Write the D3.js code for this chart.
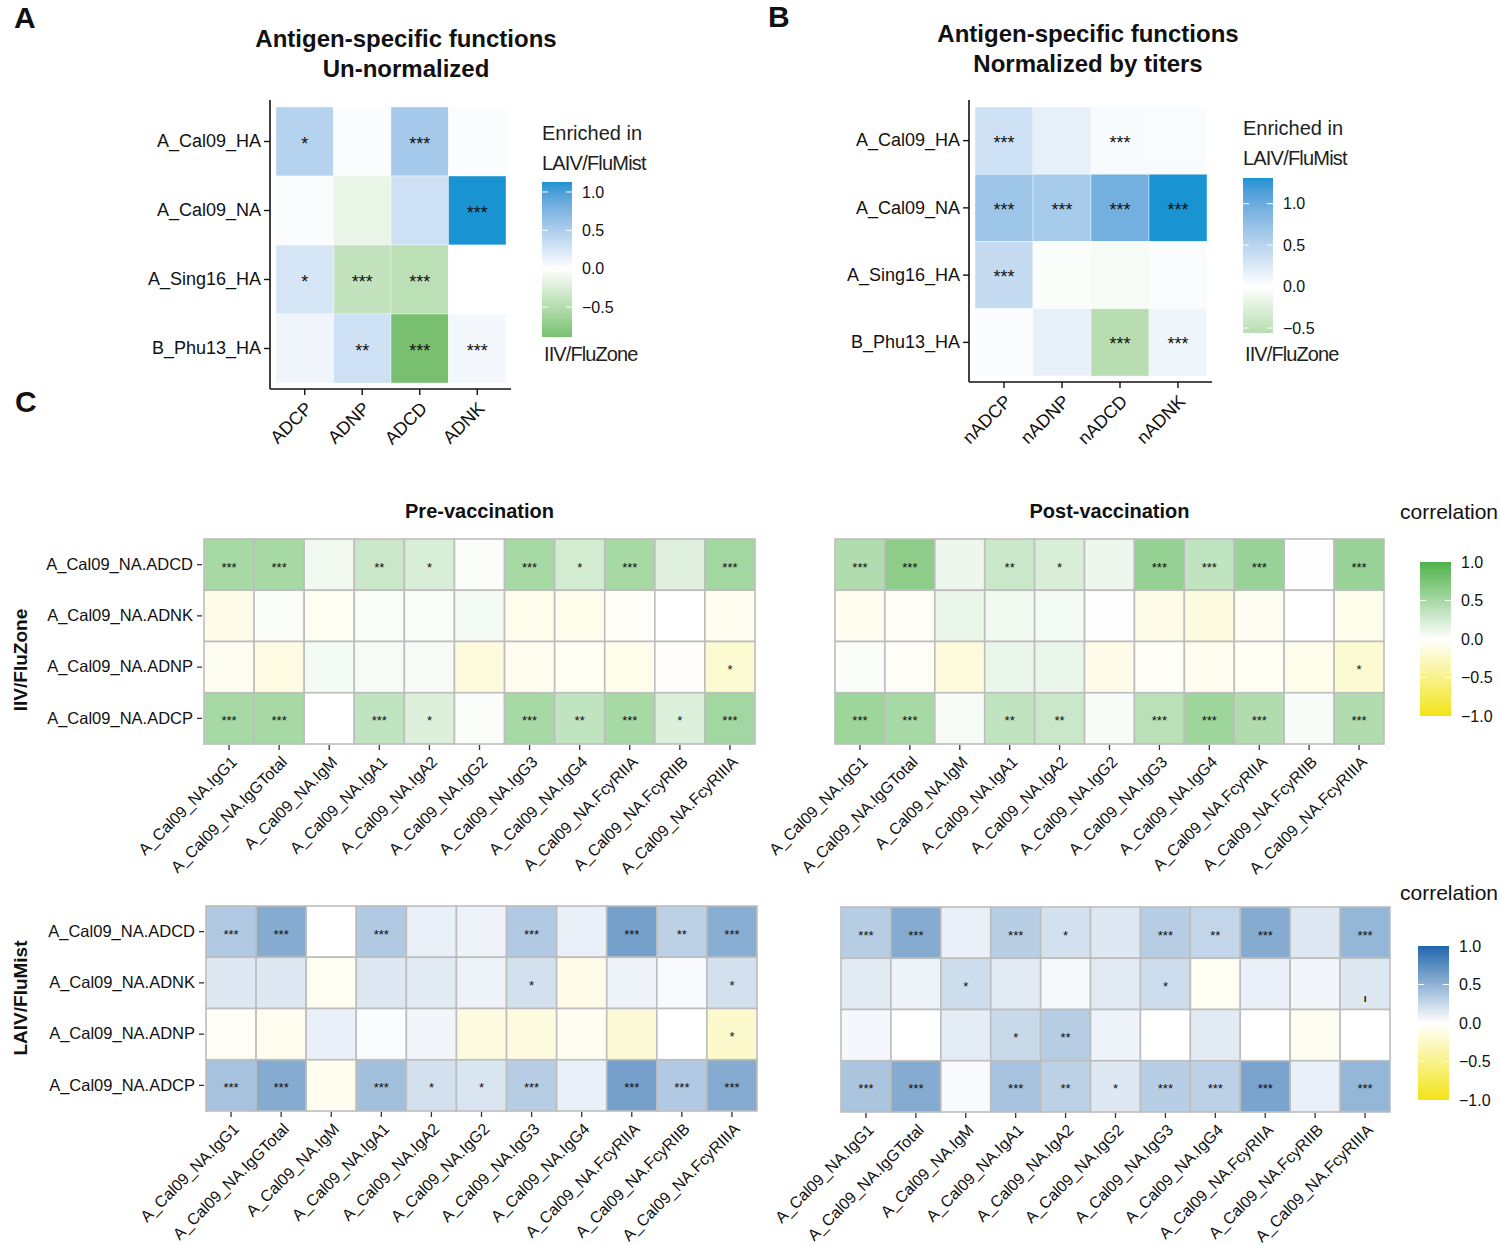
<!DOCTYPE html>
<html>
<head>
<meta charset="utf-8">
<script src="https://cdn.jsdelivr.net/npm/d3@7"></script>
<style>
  html, body { margin: 0; padding: 0; background: #fff; }
  svg { display: block; }
</style>
</head>
<body>
<script>
// ---------------- DATA ----------------
const fnRows = ["A_Cal09_HA", "A_Cal09_NA", "A_Sing16_HA", "B_Phu13_HA"];
const colsA = ["ADCP", "ADNP", "ADCD", "ADNK"];
const valsA = [
  [0.45, 0.03, 0.55, 0.03],
  [0.03, -0.15, 0.30, 1.13],
  [0.25, -0.40, -0.45, 0.00],
  [0.10, 0.30, -0.89, 0.07]
];
const starsA = [
  ["*", "", "***", ""],
  ["", "", "", "***"],
  ["*", "***", "***", ""],
  ["", "**", "***", "***"]
];
const colsB = ["nADCP", "nADNP", "nADCD", "nADNK"];
const valsB = [
  [0.35, 0.18, 0.05, 0.04],
  [0.68, 0.62, 0.95, 1.31],
  [0.42, -0.03, -0.07, 0.03],
  [0.03, 0.18, -0.56, 0.12]
];
const starsB = [
  ["***", "", "***", ""],
  ["***", "***", "***", "***"],
  ["***", "", "", ""],
  ["", "", "***", "***"]
];
const fnLegendTicks = [1.0, 0.5, 0.0, -0.5];

const corrRows = ["A_Cal09_NA.ADCD", "A_Cal09_NA.ADNK", "A_Cal09_NA.ADNP", "A_Cal09_NA.ADCP"];
const corrCols = ["A_Cal09_NA.IgG1", "A_Cal09_NA.IgGTotal", "A_Cal09_NA.IgM", "A_Cal09_NA.IgA1",
  "A_Cal09_NA.IgA2", "A_Cal09_NA.IgG2", "A_Cal09_NA.IgG3", "A_Cal09_NA.IgG4",
  "A_Cal09_NA.FcyRIIA", "A_Cal09_NA.FcyRIIB", "A_Cal09_NA.FcyRIIIA"];
const corrLegendTicks = [1.0, 0.5, 0.0, -0.5, -1.0];

// IIV/FluZone, pre-vaccination
const iivPre = [
  [0.50, 0.50, 0.08, 0.30, 0.22, 0.03, 0.50, 0.25, 0.50, 0.18, 0.52],
  [-0.10, 0.03, -0.05, 0.02, 0.03, 0.06, -0.08, -0.08, -0.03, 0.00, -0.07],
  [-0.06, -0.13, 0.06, 0.05, 0.05, -0.15, -0.07, -0.05, -0.08, -0.02, -0.20],
  [0.50, 0.50, 0.00, 0.35, 0.20, 0.03, 0.50, 0.35, 0.50, 0.20, 0.52]
];
const iivPreStars = [
  ["***", "***", "", "**", "*", "", "***", "*", "***", "", "***"],
  ["", "", "", "", "", "", "", "", "", "", ""],
  ["", "", "", "", "", "", "", "", "", "", "*"],
  ["***", "***", "", "***", "*", "", "***", "**", "***", "*", "***"]
];
// IIV/FluZone, post-vaccination
const iivPost = [
  [0.45, 0.65, 0.10, 0.30, 0.22, 0.10, 0.60, 0.35, 0.58, 0.01, 0.58],
  [-0.07, -0.04, 0.12, 0.08, 0.06, 0.01, -0.10, -0.14, -0.06, 0.00, -0.08],
  [0.02, -0.04, -0.15, 0.12, 0.12, -0.10, -0.03, -0.07, -0.05, -0.08, -0.20],
  [0.55, 0.50, 0.05, 0.35, 0.30, 0.04, 0.40, 0.55, 0.45, 0.04, 0.45]
];
const iivPostStars = [
  ["***", "***", "", "**", "*", "", "***", "***", "***", "", "***"],
  ["", "", "", "", "", "", "", "", "", "", ""],
  ["", "", "", "", "", "", "", "", "", "", "*"],
  ["***", "***", "", "**", "**", "", "***", "***", "***", "", "***"]
];
// LAIV/FluMist, pre-vaccination
const laivPre = [
  [0.35, 0.55, 0.00, 0.35, 0.10, 0.08, 0.35, 0.10, 0.62, 0.30, 0.53],
  [0.15, 0.15, -0.05, 0.15, 0.13, 0.08, 0.20, -0.10, 0.08, 0.03, 0.20],
  [-0.04, -0.07, 0.10, 0.02, 0.06, -0.14, -0.14, -0.06, -0.17, 0.00, -0.22],
  [0.40, 0.55, -0.07, 0.42, 0.20, 0.17, 0.33, 0.10, 0.62, 0.35, 0.55]
];
const laivPreStars = [
  ["***", "***", "", "***", "", "", "***", "", "***", "**", "***"],
  ["", "", "", "", "", "", "*", "", "", "", "*"],
  ["", "", "", "", "", "", "", "", "", "", "*"],
  ["***", "***", "", "***", "*", "*", "***", "", "***", "***", "***"]
];
// LAIV/FluMist, post-vaccination
const laivPost = [
  [0.33, 0.55, 0.10, 0.32, 0.20, 0.15, 0.33, 0.27, 0.55, 0.15, 0.48],
  [0.13, 0.08, 0.22, 0.13, 0.04, 0.13, 0.22, -0.05, 0.10, 0.06, 0.15],
  [0.05, 0.00, 0.12, 0.25, 0.33, 0.08, 0.00, 0.13, 0.00, -0.06, 0.00],
  [0.38, 0.55, 0.03, 0.40, 0.30, 0.15, 0.32, 0.30, 0.60, 0.10, 0.48]
];
const laivPostStars = [
  ["***", "***", "", "***", "*", "", "***", "**", "***", "", "***"],
  ["", "", "*", "", "", "", "*", "", "", "", "ı"],
  ["", "", "", "*", "**", "", "", "", "", "", ""],
  ["***", "***", "", "***", "**", "*", "***", "***", "***", "", "***"]
];

// ---------------- STYLE ----------------
const FONT = "'Liberation Sans', Arial, Helvetica, sans-serif";
const FN_GREEN = "#4daf4a", FN_BLUE = "#1a93d3";
const C_GREEN = "#4fb24a", C_BLUE = "#2166ac", C_YELLOW = "#f2e417";
const fmt = v => (v < 0 ? "\u2212" : "") + Math.abs(v).toFixed(1);

const svg = d3.select("body").append("svg")
  .attr("width", 1500).attr("height", 1245)
  .style("font-family", FONT);
const defs = svg.append("defs");
let gradId = 0;

function panelLetter(txt, x, y) {
  svg.append("text").attr("x", x).attr("y", y).text(txt)
    .attr("font-size", 30).attr("font-weight", "bold").attr("fill", "#111");
}

function gradientLegend(o) {
  const id = "grad" + (gradId++);
  const lg = defs.append("linearGradient").attr("id", id)
    .attr("x1", 0).attr("y1", 1).attr("x2", 0).attr("y2", 0);
  const N = 40;
  for (let i = 0; i <= N; i++) {
    const v = o.domain[0] + (o.domain[1] - o.domain[0]) * i / N;
    lg.append("stop").attr("offset", i / N).attr("stop-color", o.color(v));
  }
  const s = d3.scaleLinear().domain(o.domain).range([o.yBot, o.yTop]);
  const g = svg.append("g");
  g.append("rect").attr("x", o.x).attr("y", o.yTop).attr("width", o.w)
    .attr("height", o.yBot - o.yTop).attr("fill", `url(#${id})`);
  const tl = o.w / 5;
  o.ticks.forEach(t => {
    const yy = s(t);
    if (yy > o.yTop + 2 && yy < o.yBot - 2) {
      g.append("line").attr("x1", o.x).attr("x2", o.x + tl).attr("y1", yy).attr("y2", yy)
        .attr("stroke", "#fff").attr("stroke-width", 1);
      g.append("line").attr("x1", o.x + o.w - tl).attr("x2", o.x + o.w).attr("y1", yy).attr("y2", yy)
        .attr("stroke", "#fff").attr("stroke-width", 1);
    }
    g.append("text").attr("x", o.x + o.w + o.labelGap).attr("y", yy).attr("dy", "0.36em")
      .attr("font-size", o.labelSize).attr("fill", "#111").text(fmt(t));
  });
}

// -------- Panels A & B: antigen-specific functions --------
function fnPanel(o) {
  const x = d3.scaleBand().domain(o.cols).range([o.x0, o.x1]);
  const y = d3.scaleBand().domain(o.rows).range([o.y0, o.y1]);
  const all = o.vals.flat();
  const m = d3.max(all, v => Math.abs(v));
  const color = d3.scaleLinear().domain([-m, 0, m])
    .range([FN_GREEN, "#ffffff", FN_BLUE]).interpolate(d3.interpolateLab);
  const g = svg.append("g");
  o.rows.forEach((r, i) => o.cols.forEach((c, j) => {
    g.append("rect").attr("x", x(c)).attr("y", y(r))
      .attr("width", x.bandwidth()).attr("height", y.bandwidth())
      .attr("fill", color(o.vals[i][j]))
      .attr("stroke", "#ffffff").attr("stroke-opacity", 0.5).attr("stroke-width", 0.8);
    if (o.stars[i][j]) {
      g.append("text").attr("x", x(c) + x.bandwidth() / 2).attr("y", y(r) + y.bandwidth() / 2 + 8)
        .attr("text-anchor", "middle").attr("font-size", 18).attr("fill", "#111")
        .text(o.stars[i][j]);
    }
  }));
  // axes
  const axX = o.x0 - 6, axY = o.y1 + 6;
  g.append("line").attr("x1", axX).attr("x2", axX).attr("y1", o.y0 - 7).attr("y2", axY)
    .attr("stroke", "#111").attr("stroke-width", 1.6);
  g.append("line").attr("x1", axX).attr("x2", o.x1 + 5).attr("y1", axY).attr("y2", axY)
    .attr("stroke", "#111").attr("stroke-width", 1.6);
  const ya = g.append("g").attr("transform", `translate(${axX},0)`)
    .call(d3.axisLeft(y).tickSize(6).tickPadding(3).tickSizeOuter(0));
  ya.select(".domain").remove();
  ya.selectAll(".tick line").attr("stroke", "#111").attr("stroke-width", 1.4);
  ya.selectAll(".tick text").attr("font-size", 18).attr("fill", "#111").attr("font-family", FONT);
  const xa = g.append("g").attr("transform", `translate(0,${axY})`)
    .call(d3.axisBottom(x).tickSize(6).tickSizeOuter(0));
  xa.select(".domain").remove();
  xa.selectAll(".tick line").attr("stroke", "#111").attr("stroke-width", 1.4);
  xa.selectAll(".tick text").attr("font-size", 18).attr("fill", "#111").attr("font-family", FONT)
    .attr("x", 0).attr("y", 0).attr("dy", "0.35em")
    .attr("text-anchor", "end").attr("transform", "translate(4,16) rotate(-45)");
  // title
  o.title.forEach((t, k) => {
    svg.append("text").attr("x", o.titleX).attr("y", o.titleY + k * 30).attr("text-anchor", "middle")
      .attr("font-size", 24).attr("font-weight", "bold").attr("fill", "#111").text(t);
  });
  // legend
  const ext = d3.extent(all);
  svg.append("text").attr("x", o.lgX).attr("y", o.lgTitleY).attr("font-size", 20).attr("fill", "#222")
    .text("Enriched in");
  svg.append("text").attr("x", o.lgX).attr("y", o.lgTitleY + 30).attr("font-size", 20).attr("fill", "#222")
    .attr("letter-spacing", -0.8).text("LAIV/FluMist");
  svg.append("text").attr("x", o.lgX + 2).attr("y", 361).attr("font-size", 20).attr("fill", "#222")
    .attr("letter-spacing", -0.9).text("IIV/FluZone");
  gradientLegend({ x: o.lgX, yTop: o.lgTop, yBot: o.lgBot, w: 30, domain: ext, color,
    ticks: fnLegendTicks.filter(t => t >= ext[0] && t <= ext[1]), labelSize: 16, labelGap: 10 });
}

fnPanel({ rows: fnRows, cols: colsA, vals: valsA, stars: starsA,
  x0: 276, x1: 506, y0: 107, y1: 383,
  title: ["Antigen-specific functions", "Un-normalized"], titleX: 406, titleY: 47,
  lgX: 542, lgTitleY: 140, lgTop: 182, lgBot: 337 });
fnPanel({ rows: fnRows, cols: colsB, vals: valsB, stars: starsB,
  x0: 975, x1: 1207, y0: 107, y1: 376,
  title: ["Antigen-specific functions", "Normalized by titers"], titleX: 1088, titleY: 42,
  lgX: 1243, lgTitleY: 135, lgTop: 178, lgBot: 333 });

panelLetter("A", 14, 28);
panelLetter("B", 768, 27);
panelLetter("C", 15, 412);

// -------- Panel C: correlation heatmaps --------
function corrPanel(o) {
  const x = d3.scaleBand().domain(corrCols).range([o.x0, o.x1]);
  const y = d3.scaleBand().domain(corrRows).range([o.y0, o.y1]);
  const g = svg.append("g");
  corrRows.forEach((r, i) => corrCols.forEach((c, j) => {
    g.append("rect").attr("x", x(c)).attr("y", y(r))
      .attr("width", x.bandwidth()).attr("height", y.bandwidth())
      .attr("fill", o.color(o.vals[i][j]))
      .attr("stroke", "#bdbdbd").attr("stroke-width", 1.6);
    const s = o.stars[i][j];
    if (s) {
      const isTick = s === "ı";
      g.append("text").attr("x", x(c) + x.bandwidth() / 2)
        .attr("y", y(r) + y.bandwidth() / 2 + (isTick ? 18 : 7))
        .attr("text-anchor", "middle").attr("font-size", isTick ? 10 : 13)
        .attr("font-weight", isTick ? "bold" : "normal").attr("fill", "#111").text(s);
    }
  }));
  const xa = g.append("g").attr("transform", `translate(0,${o.y1 + 1})`)
    .call(d3.axisBottom(x).tickSize(5).tickSizeOuter(0));
  xa.select(".domain").remove();
  xa.selectAll(".tick line").attr("stroke", "#333").attr("stroke-width", 1.3);
  xa.selectAll(".tick text").attr("font-size", 16).attr("fill", "#111").attr("font-family", FONT)
    .attr("x", 0).attr("y", 0).attr("dy", "0.35em")
    .attr("text-anchor", "end").attr("transform", "translate(5,14) rotate(-45)");
  if (o.rowLabels) {
    const ya = g.append("g").attr("transform", `translate(${o.x0 - 2},0)`)
      .call(d3.axisLeft(y).tickSize(5).tickPadding(4).tickSizeOuter(0));
    ya.select(".domain").remove();
    ya.selectAll(".tick line").attr("stroke", "#333").attr("stroke-width", 1.3);
    ya.selectAll(".tick text").attr("font-size", 16.5).attr("fill", "#111").attr("font-family", FONT);
  }
  if (o.title) {
    svg.append("text").attr("x", (o.x0 + o.x1) / 2).attr("y", o.y0 - 21).attr("text-anchor", "middle")
      .attr("font-size", 20).attr("font-weight", "bold").attr("fill", "#111").text(o.title);
  }
}

const greenScale = d3.scaleLinear().domain([-1, 0, 1]).range([C_YELLOW, "#ffffff", C_GREEN])
  .interpolate(d3.interpolateRgb);
const blueScale = d3.scaleLinear().domain([-1, 0, 1]).range([C_YELLOW, "#ffffff", C_BLUE])
  .interpolate(d3.interpolateRgb);

corrPanel({ vals: iivPre, stars: iivPreStars, color: greenScale, x0: 204, x1: 755, y0: 539, y1: 744,
  rowLabels: true, title: "Pre-vaccination" });
corrPanel({ vals: iivPost, stars: iivPostStars, color: greenScale, x0: 835, x1: 1384, y0: 539, y1: 744,
  rowLabels: false, title: "Post-vaccination" });
corrPanel({ vals: laivPre, stars: laivPreStars, color: blueScale, x0: 206, x1: 757, y0: 906, y1: 1111,
  rowLabels: true });
corrPanel({ vals: laivPost, stars: laivPostStars, color: blueScale, x0: 841, x1: 1390, y0: 907, y1: 1112,
  rowLabels: false });

// group labels
svg.append("text").attr("transform", "translate(27,660) rotate(-90)").attr("text-anchor", "middle")
  .attr("font-size", 19).attr("font-weight", "bold").attr("fill", "#111").text("IIV/FluZone");
svg.append("text").attr("transform", "translate(27,998) rotate(-90)").attr("text-anchor", "middle")
  .attr("font-size", 19).attr("font-weight", "bold").attr("fill", "#111").text("LAIV/FluMist");

// correlation legends
svg.append("text").attr("x", 1400).attr("y", 519).attr("font-size", 21).attr("fill", "#111").text("correlation");
gradientLegend({ x: 1420, yTop: 562, yBot: 716, w: 31, domain: [-1, 1], color: greenScale,
  ticks: corrLegendTicks, labelSize: 16, labelGap: 10 });
svg.append("text").attr("x", 1400).attr("y", 900).attr("font-size", 21).attr("fill", "#111").text("correlation");
gradientLegend({ x: 1418, yTop: 946, yBot: 1100, w: 31, domain: [-1, 1], color: blueScale,
  ticks: corrLegendTicks, labelSize: 16, labelGap: 10 });
</script>
</body>
</html>
